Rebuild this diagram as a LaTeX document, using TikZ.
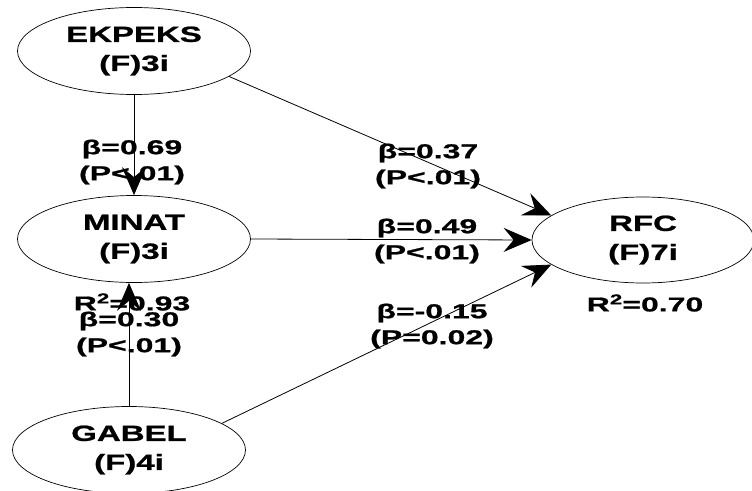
\documentclass[tikz,border=0pt]{standalone}
\usepackage{fontspec}
\usetikzlibrary{shapes.geometric,arrows.meta}
\newfontfamily\nodefnt[FakeStretch=1.5,FakeBold=1]{Liberation Sans Bold}
\newfontfamily\lblfnt[FakeStretch=1.6,FakeBold=1]{Liberation Sans Bold}
\newcommand{\sqsup}{\raisebox{0.36em}{\fontsize{14}{14}\selectfont 2}}
\tikzset{
  latent/.style={draw=black, line width=0.7pt, fill=white, ellipse,
    minimum width=233pt, minimum height=87pt, inner sep=0pt, align=center,
    font=\nodefnt\fontsize{22}{29}\selectfont},
  coef/.style={align=center, inner sep=0pt,
    font=\lblfnt\fontsize{20}{26}\selectfont},
  link/.style={draw=black, line width=0.8pt,
    -{Stealth[length=28pt,width=24pt,inset=10pt]}}
}
\begin{document}
\begin{tikzpicture}[x=1pt,y=-1pt]
\useasboundingbox (0,0) rectangle (752,490);
\fill[white] (0,0) rectangle (752,490);

\node[latent] (ek) at (134,51) {EKPEKS\\(F)3i};
\node[latent] (mi) at (134,239) {MINAT\\(F)3i};
\node[latent] (ga) at (129,450) {GABEL\\(F)4i};
\node[latent, minimum width=222pt, minimum height=86pt] (rf) at (643,240) {RFC\\(F)7i};

\node[coef] (l1) at (132,162) {β=0.69\\(P<.01)};
\node[coef] (l2) at (428,166) {β=0.37\\(P<.01)};
\node[coef] (l3) at (427,241) {β=0.49\\(P<.01)};
\node[coef] (l4) at (432,326) {β=-0.15\\(P=0.02)};
\node[coef] (l5) at (129,334) {β=0.30\\(P<.01)};
\node[coef] (r2mi) at (132,302) {R\sqsup=0.93};
\node[coef] (r2rf) at (645,303) {R\sqsup=0.70};

\draw[link] (ek.south) -- (mi.north);
\draw[link] (ga.north) -- (ga.north |- mi.south);
\draw[link] (ek.-15) -- (rf.165);
\draw[link] (mi.east) -- (rf.west);
\draw[link] (ga.16) -- (rf.195);
\end{tikzpicture}
\end{document}
